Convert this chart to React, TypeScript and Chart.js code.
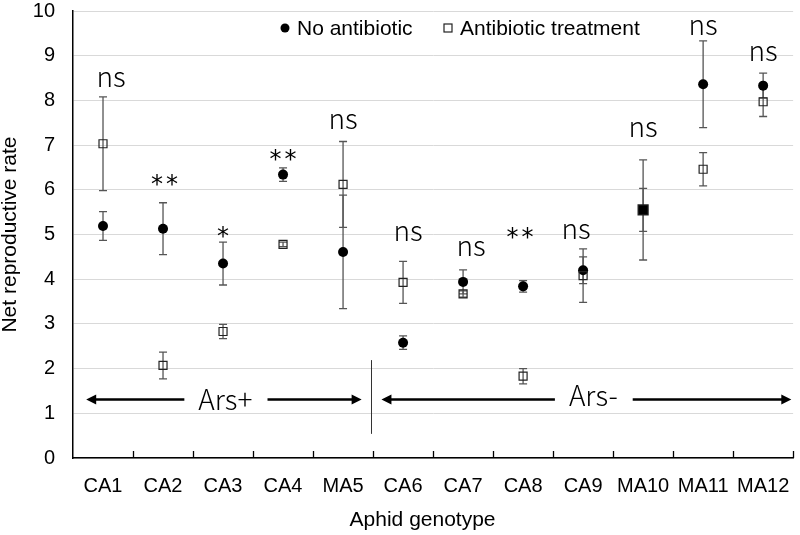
import React, { useEffect, useRef } from 'react';
import { Chart, registerables } from 'chart.js';

Chart.register(...registerables);

// ---------- data ----------
const genotypes = ['CA1', 'CA2', 'CA3', 'CA4', 'MA5', 'CA6', 'CA7', 'CA8', 'CA9', 'MA10', 'MA11', 'MA12'];
const noAntibiotic = [5.19, 5.13, 4.35, 6.34, 4.61, 2.58, 3.94, 3.84, 4.2, 5.55, 8.36, 8.33];
const noAntibioticErr = [0.32, 0.58, 0.48, 0.15, 1.27, 0.15, 0.27, 0.13, 0.3, 1.12, 0.97, 0.28];
const antibiotic = [7.03, 2.07, 2.83, 4.78, 6.12, 3.93, 3.67, 1.83, 4.08, 5.55, 6.46, 7.97];
const antibioticErr = [1.05, 0.3, 0.16, 0.05, 0.96, 0.47, 0.07, 0.17, 0.6, 0.48, 0.37, 0.33];
const significance = ['ns', '**', '*', '**', 'ns', 'ns', 'ns', '**', 'ns', 'ns', 'ns', 'ns'];
const significanceY = [8.48, 6.24, 5.08, 6.8, 7.52, 5.03, 4.68, 5.06, 5.06, 7.34, 9.64, 9.06];
const yTicks = [0, 1, 2, 3, 4, 5, 6, 7, 8, 9, 10];
// groups: label, arrow from/to (category index units), label centre (index), label y (value)
const groupLabels = ['Ars+', 'Ars-'];
const groupFrom = [-0.28, 4.64];
const groupTo = [4.31, 11.47];
const groupCenter = [2.04, 8.17];
const groupLabelY = [1.3, 1.39];
const groupArrowY = 1.31;
const dividerX = 4.47;
const dividerFrom = 0.54;
const dividerTo = 2.19;

// ---------- layout constants ----------
const W = 800;
const H = 535;
const ANNOT_DX = [8, 1.5, 0, 0, 0, 5, 8, -3, -7, 0, 0, 0];
const ARIAL = '"Liberation Sans", Arial, sans-serif';
const LIGHT = '"Noto Sans CJK SC", "Noto Sans", sans-serif';
const STAR = '"DejaVu Sans", sans-serif';
const ERR_COLOR = '#555555';

const overlay = {
  id: 'overlay',
  beforeDatasetsDraw(chart: any) {
    const ctx = chart.ctx;
    const y = chart.scales.y;
    const sets = [
      { vals: noAntibiotic, errs: noAntibioticErr, idx: 0 },
      { vals: antibiotic, errs: antibioticErr, idx: 1 },
    ];
    ctx.save();
    ctx.strokeStyle = ERR_COLOR;
    ctx.lineWidth = 1.3;
    sets.forEach((s) => {
      const meta = chart.getDatasetMeta(s.idx);
      s.vals.forEach((v, i) => {
        const x = meta.data[i].x;
        const yt = y.getPixelForValue(v + s.errs[i]);
        const yb = y.getPixelForValue(v - s.errs[i]);
        ctx.beginPath();
        ctx.moveTo(x, yt);
        ctx.lineTo(x, yb);
        ctx.moveTo(x - 4, yt);
        ctx.lineTo(x + 4, yt);
        ctx.moveTo(x - 4, yb);
        ctx.lineTo(x + 4, yb);
        ctx.stroke();
      });
    });
    ctx.restore();
  },
  afterDatasetsDraw(chart: any) {
    const ctx = chart.ctx;
    const xs = chart.scales.x;
    const ys = chart.scales.y;
    const area = chart.chartArea;
    ctx.save();

    // inward tick marks on x axis at category boundaries
    ctx.strokeStyle = '#000';
    ctx.lineWidth = 1.3;
    ctx.beginPath();
    for (let i = 1; i <= genotypes.length; i++) {
      const x = Math.round(xs.getPixelForValue(i - 0.5)) + 0.5;
      ctx.moveTo(x, area.bottom);
      ctx.lineTo(x, area.bottom - 7);
    }
    ctx.stroke();

    // significance annotations
    ctx.fillStyle = '#000';
    ctx.textAlign = 'center';
    ctx.textBaseline = 'alphabetic';
    significance.forEach((t, i) => {
      const x = xs.getPixelForValue(i) + ANNOT_DX[i];
      const yc = ys.getPixelForValue(significanceY[i]);
      if (t === 'ns') {
        ctx.font = `300 28px ${LIGHT}`;
        ctx.fillText(t, x, yc + 0.27 * 28);
      } else {
        ctx.font = `normal 24px ${STAR}`;
        const w = ctx.measureText('*').width;
        const gap = 3;
        const n = t.length;
        const total = n * w + (n - 1) * gap;
        for (let k = 0; k < n; k++) {
          ctx.fillText('*', x - total / 2 + w / 2 + k * (w + gap), yc + 0.53 * 24);
        }
      }
    });

    // group arrows
    ctx.font = `300 28px ${LIGHT}`;
    const ay = ys.getPixelForValue(groupArrowY);
    ctx.strokeStyle = '#000';
    ctx.lineWidth = 2.5;
    groupLabels.forEach((lab, g) => {
      const x0 = xs.getPixelForValue(groupFrom[g]);
      const x1 = xs.getPixelForValue(groupTo[g]);
      const xc = xs.getPixelForValue(groupCenter[g]);
      const tw = ctx.measureText(lab).width;
      const gl = xc - tw / 2 - 14;
      const gr = xc + tw / 2 + 15;
      const head = 10;
      ctx.beginPath();
      ctx.moveTo(x0 + head - 1, ay);
      ctx.lineTo(gl, ay);
      ctx.moveTo(gr, ay);
      ctx.lineTo(x1 - head + 1, ay);
      ctx.stroke();
      ctx.beginPath();
      ctx.moveTo(x0, ay);
      ctx.lineTo(x0 + head, ay - 5);
      ctx.lineTo(x0 + head, ay + 5);
      ctx.closePath();
      ctx.fill();
      ctx.beginPath();
      ctx.moveTo(x1, ay);
      ctx.lineTo(x1 - head, ay - 5);
      ctx.lineTo(x1 - head, ay + 5);
      ctx.closePath();
      ctx.fill();
      const ly = ys.getPixelForValue(groupLabelY[g]);
      ctx.fillText(lab, xc, ly + 0.37 * 28);
    });

    // divider
    const dx = Math.round(xs.getPixelForValue(dividerX)) + 0.5;
    ctx.strokeStyle = '#333';
    ctx.lineWidth = 1;
    ctx.beginPath();
    ctx.moveTo(dx, ys.getPixelForValue(dividerTo));
    ctx.lineTo(dx, ys.getPixelForValue(dividerFrom));
    ctx.stroke();

    // legend
    const lx = area.left;
    const legY = 28;
    ctx.fillStyle = '#000';
    ctx.beginPath();
    ctx.arc(lx + 212, legY, 4.5, 0, Math.PI * 2);
    ctx.fill();
    ctx.font = `21px ${ARIAL}`;
    ctx.textAlign = 'left';
    ctx.textBaseline = 'middle';
    ctx.fillText(chart.data.datasets[0].label, lx + 224, legY + 1);
    ctx.strokeStyle = '#222';
    ctx.lineWidth = 1.2;
    ctx.strokeRect(lx + 371, legY - 4, 8, 8);
    ctx.fillText(chart.data.datasets[1].label, lx + 387, legY + 1);

    // x axis title
    ctx.textAlign = 'center';
    ctx.fillText('Aphid genotype', (area.left + area.right) / 2 - 10.5, 520);

    ctx.restore();
  },
};

export default function App() {
  const ref = useRef<HTMLCanvasElement | null>(null);

  useEffect(() => {
    document.body.style.margin = '0';
    if (!ref.current) return;
    const merged = noAntibiotic.map((v, i) => v === antibiotic[i]);
    const chart = new Chart(ref.current, {
      type: 'line',
      data: {
        labels: genotypes,
        datasets: [
          {
            label: 'No antibiotic',
            data: noAntibiotic,
            showLine: false,
            pointStyle: 'circle',
            pointRadius: 5,
            pointBackgroundColor: '#000',
            pointBorderColor: '#000',
            pointBorderWidth: 0,
            order: 2,
          },
          {
            label: 'Antibiotic treatment',
            data: antibiotic,
            showLine: false,
            pointStyle: 'rect',
            pointRadius: merged.map((m) => (m ? 7.07 : 5.66)),
            pointBackgroundColor: merged.map((m) => (m ? '#000' : 'rgba(0,0,0,0)')),
            pointBorderColor: '#222',
            pointBorderWidth: 1.2,
            order: 1,
          },
        ],
      },
      options: {
        responsive: false,
        animation: false,
        events: [],
        layout: { padding: { left: 0, right: 3, top: 11, bottom: 0 } },
        plugins: { legend: { display: false }, tooltip: { enabled: false } },
        scales: {
          x: {
            type: 'category',
            offset: true,
            grid: { display: false },
            border: { display: true, color: '#000', width: 1.5 },
            ticks: {
              color: '#000',
              font: { family: ARIAL, size: 20, lineHeight: 1 },
              padding: 10,
              maxRotation: 0,
              autoSkip: false,
            },
            afterFit: (s: any) => {
              s.height = H - 458;
              s.paddingLeft = 0;
              s.paddingRight = 0;
            },
          },
          y: {
            min: 0,
            max: 10,
            afterBuildTicks: (s: any) => {
              s.ticks = yTicks.map((v) => ({ value: v }));
            },
            ticks: {
              color: '#000',
              font: { family: ARIAL, size: 20, lineHeight: 1 },
              padding: 18,
            },
            grid: { color: '#d9d9d9', drawTicks: false, lineWidth: 1 },
            border: { display: true, color: '#000', width: 1.5 },
            title: {
              display: true,
              text: 'Net reproductive rate',
              color: '#000',
              font: { family: ARIAL, size: 21, lineHeight: 1 },
              padding: 0,
            },
            afterFit: (s: any) => {
              s.width = 73;
              s.paddingTop = 0;
              s.paddingBottom = 0;
            },
          },
        },
      },
      plugins: [overlay],
    });
    return () => chart.destroy();
  }, []);

  return (
    <div style={{ width: W, height: H, background: '#fff' }}>
      <canvas ref={ref} width={W} height={H} />
    </div>
  );
}
